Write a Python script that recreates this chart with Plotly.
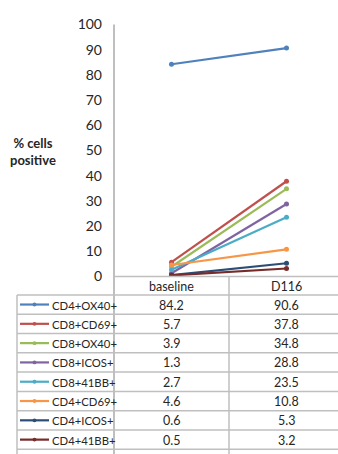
import plotly.graph_objects as go

# Categories (time points) and series
categories = ["baseline", "D116"]
series_names = [
    "CD4+OX40+", "CD8+CD69+", "CD8+OX40+", "CD8+ICOS+",
    "CD8+41BB+", "CD4+CD69+", "CD4+ICOS+", "CD4+41BB+",
]
baseline_values = [84.2, 5.7, 3.9, 1.3, 2.7, 4.6, 0.6, 0.5]
d116_values = [90.6, 37.8, 34.8, 28.8, 23.5, 10.8, 5.3, 3.2]
series_colors = [
    "#4F81BD", "#C0504D", "#9BBB59", "#8064A2",
    "#4BACC6", "#F79646", "#2C4D75", "#772C2A",
]
y_ticks = [0, 10, 20, 30, 40, 50, 60, 70, 80, 90, 100]
y_title = "<b>% cells<br>positive</b>"

W, H = 338, 454
FONT = "Lato, 'Open Sans', sans-serif"
TEXT = "#262626"
GRID = "#BFBFBF"

# pixel helpers for the layout (figure has no margins)
def xp(px):
    return px / W

def yp(py):
    return 1 - py / H

AXIS_X = 114      # left edge of plot area / data-table value columns
AXIS_Y_TOP = 16   # y=100
AXIS_Y0 = 278     # y=0 / top of the data table
HEADER_BOTTOM = 297
ROW_H = 20.05
TABLE_LEFT = 17
CAT_W = 115       # width of one category column

x_pos = list(range(len(categories)))
x_range = [-0.5, -0.5 + (W - AXIS_X) / CAT_W]

fig = go.Figure()

for name, b, d, c in zip(series_names, baseline_values, d116_values, series_colors):
    fig.add_trace(go.Scatter(
        x=x_pos, y=[b, d], name=name, mode="lines+markers",
        line=dict(color=c, width=2.2),
        marker=dict(color=c, size=5),
        showlegend=False, hoverinfo="name+y",
    ))

shapes = []
annotations = []

# data table grid
n_rows = len(series_names)
row_lines = [HEADER_BOTTOM + ROW_H * k for k in range(n_rows + 1)]
for k, ry in enumerate(row_lines):
    shapes.append(dict(type="line", xref="paper", yref="paper",
                       x0=xp(TABLE_LEFT), x1=1.02, y0=yp(ry), y1=yp(ry),
                       line=dict(color=GRID, width=1.5)))
# top line of the header (category axis)
shapes.append(dict(type="line", xref="paper", yref="paper",
                   x0=xp(AXIS_X), x1=1.02, y0=yp(AXIS_Y0), y1=yp(AXIS_Y0),
                   line=dict(color=GRID, width=1.5)))
# vertical lines: left border, axis continuation, column divider
shapes.append(dict(type="line", xref="paper", yref="paper",
                   x0=xp(TABLE_LEFT), x1=xp(TABLE_LEFT),
                   y0=yp(HEADER_BOTTOM), y1=-0.05,
                   line=dict(color=GRID, width=1.5)))
shapes.append(dict(type="line", xref="paper", yref="paper",
                   x0=xp(AXIS_X), x1=xp(AXIS_X),
                   y0=yp(AXIS_Y_TOP), y1=-0.05,
                   line=dict(color=GRID, width=2)))
shapes.append(dict(type="line", xref="x", yref="paper",
                   x0=0.5, x1=0.5, y0=yp(AXIS_Y0), y1=-0.05,
                   line=dict(color=GRID, width=1.5)))

# category header labels
for i, cat in enumerate(categories):
    annotations.append(dict(x=i, y=yp((AXIS_Y0 + HEADER_BOTTOM) / 2 + 0.5),
                            xref="x", yref="paper", text=cat, showarrow=False,
                            font=dict(family=FONT, size=12.5, color=TEXT),
                            xanchor="center", yanchor="middle"))

# table rows: legend key, name, values
for r, (name, b, d, c) in enumerate(zip(series_names, baseline_values, d116_values, series_colors)):
    cy = HEADER_BOTTOM + ROW_H * (r + 0.5)
    shapes.append(dict(type="line", xref="paper", yref="paper",
                       x0=xp(20), x1=xp(49), y0=yp(cy), y1=yp(cy),
                       line=dict(color=c, width=2.2)))
    shapes.append(dict(type="circle", xref="paper", yref="paper",
                       x0=xp(32.5), x1=xp(36.5), y0=yp(cy + 2), y1=yp(cy - 2),
                       fillcolor=c, line=dict(color=c, width=0)))
    annotations.append(dict(x=xp(50), y=yp(cy + 0.5), xref="paper", yref="paper",
                            text=name, showarrow=False,
                            font=dict(family=FONT, size=11.3, color=TEXT),
                            xanchor="left", yanchor="middle"))
    for i, v in enumerate((b, d)):
        annotations.append(dict(x=i, y=yp(cy + 0.5), xref="x", yref="paper",
                                text=f"{v:.1f}", showarrow=False,
                                font=dict(family=FONT, size=12.5, color=TEXT),
                                xanchor="center", yanchor="middle"))

# axis title
annotations.append(dict(x=xp(33), y=yp(148), xref="paper", yref="paper",
                        text=y_title, showarrow=False, align="center",
                        font=dict(family=FONT, size=13, color=TEXT),
                        xanchor="center", yanchor="middle"))

fig.update_layout(
    width=W, height=H,
    margin=dict(l=0, r=0, t=0, b=0),
    paper_bgcolor="white", plot_bgcolor="white",
    shapes=shapes, annotations=annotations,
    xaxis=dict(domain=[xp(AXIS_X), 1], range=x_range,
               showgrid=False, zeroline=False, showline=False,
               showticklabels=False, fixedrange=True),
    yaxis=dict(domain=[yp(AXIS_Y0), yp(AXIS_Y_TOP)], range=[0, 100],
               tickvals=y_ticks, ticktext=[str(t) for t in y_ticks],
               showgrid=False, zeroline=False, showline=False,
               ticks="", ticklabelstandoff=11,
               tickfont=dict(family=FONT, size=14, color=TEXT),
               fixedrange=True),
    showlegend=False,
)

fig.write_html("out.html")
